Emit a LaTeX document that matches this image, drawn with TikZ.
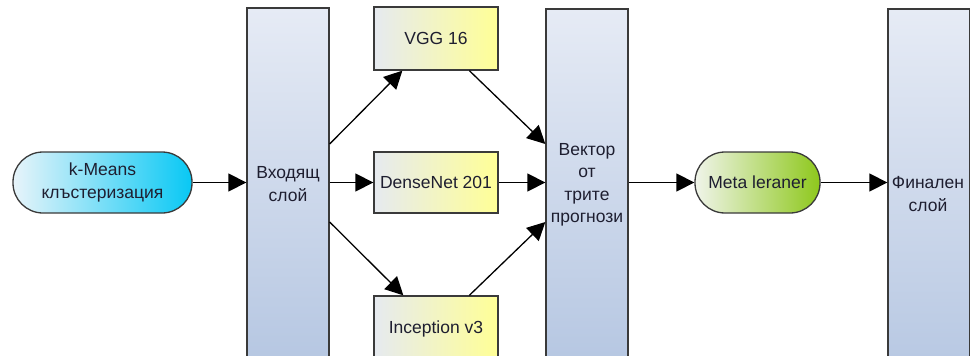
\documentclass[tikz,border=0pt]{standalone}
\usepackage{fontspec}
\setmainfont{Liberation Sans}
\usetikzlibrary{arrows.meta,calc}
\definecolor{edge}{HTML}{3A3A3A}
\definecolor{txt}{HTML}{1E1E30}
\definecolor{layertop}{HTML}{E6EBF5}
\definecolor{layerbot}{HTML}{B6C7E2}
\definecolor{modelL}{HTML}{E6EAF0}
\definecolor{modelR}{HTML}{FFFF96}
\definecolor{kmL}{HTML}{E8F4FA}
\definecolor{kmR}{HTML}{08C8F4}
\definecolor{metaL}{HTML}{F0F4EA}
\definecolor{metaR}{HTML}{8EC81C}
\tikzset{
  base/.style={draw=edge,line width=1.3pt,inner sep=0pt,text=txt,align=center,
    font=\fontsize{17.5}{22.5}\selectfont},
  layer/.style={base,rectangle,minimum width=82pt,top color=layertop,bottom color=layerbot},
  model/.style={base,rectangle,minimum width=124pt,minimum height=63pt,left color=modelL,right color=modelR},
  pill/.style={base,rectangle,rounded corners=30pt,minimum height=61pt},
  flow/.style={draw=black,line width=1.3pt,-{Triangle[length=18pt,width=18pt]}},
  lbl/.style={text=txt,align=center,inner sep=0pt,font=\fontsize{17.5}{22.5}\selectfont}
}
\begin{document}
\begin{tikzpicture}[x=1pt,y=-1pt]
\useasboundingbox (0,0) rectangle (970,356);
\clip (0,0) rectangle (970,356);

% processing blocks
\node[pill,minimum width=179pt,left color=kmL,right color=kmR] (km) at (102.5,182.5) {k-Means\\клъстеризация};
\node[layer,minimum height=352pt] (in) at (288,184) {};
\node[lbl] (inlbl) at (288,184) {Входящ\\слой};
\node[model] (vgg) at (436,38.5) {VGG 16};
\node[model,minimum height=61pt] (dn) at (436,182.5) {DenseNet 201};
\node[model,minimum height=66pt] (inc) at (436,329) {Inception v3};
\node[layer,minimum height=352pt] (vec) at (587,185) {};
\node[lbl] (veclbl) at (587,185) {Вектор\\от\\трите\\прогнози};
\node[pill,minimum width=125pt,left color=metaL,right color=metaR] (meta) at (757.5,182.5) {Meta leraner};
\node[layer,minimum height=370pt] (fin) at (929,194) {};
\node[lbl] (finlbl) at (928,194) {Финален\\слой};

% connectors
\draw[flow] (km.east) -- (km.east -| in.west);
\draw[flow] (dn.west -| in.east) -- (dn.west);
\draw[flow] (dn.east) -- (dn.east -| vec.west);
\draw[flow] (meta.west -| vec.east) -- (meta.west);
\draw[flow] (meta.east) -- (meta.east -| fin.west);
\draw[flow] ($(in.east)+(0,-40)$) -- ($(vgg.south west)+(29,0)$);
\draw[flow] ($(vgg.south west)+(96,0)$) -- ($(vec.west)+(0,-41)$);
\draw[flow] ($(in.east)+(0,38)$) -- ($(inc.north west)+(30,0)$);
\draw[flow] ($(inc.north west)+(96,0)$) -- ($(vec.west)+(0,37)$);
\end{tikzpicture}
\end{document}
